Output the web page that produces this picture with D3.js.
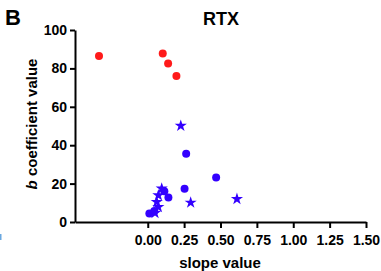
<!DOCTYPE html>
<html>
<head>
<meta charset="utf-8">
<script src="https://cdn.jsdelivr.net/npm/d3@7"></script>
<style>
  body { margin: 0; background: #fff; }
  svg { display: block; font-family: "Liberation Sans", Arial, sans-serif; }
  .axis path, .axis line { stroke: #000; stroke-width: 2; }
  .axis text { font-size: 14px; font-weight: bold; fill: #000; }
</style>
</head>
<body>
<script>
// values
var redSlope = [-0.335, 0.103, 0.14, 0.197];
var redB = [86.4, 87.8, 82.6, 76.0];

var blueDotSlope = [0.264, 0.47, 0.253, 0.011, 0.045, 0.114, 0.142];
var blueDotB = [35.5, 23.2, 17.3, 4.4, 5.7, 16.0, 12.7];

var blueStarSlope = [0.227, 0.295, 0.613, 0.096, 0.073, 0.062, 0.073, 0.05];
var blueStarB = [50.1, 10.1, 12.0, 17.4, 13.9, 10.4, 7.8, 4.7];

var xTicks = [0, 0.25, 0.5, 0.75, 1.0, 1.25, 1.5];
var yTicks = [0, 20, 40, 60, 80, 100];

var width = 381, height = 271;

var svg = d3.select("body")
    .append("svg")
    .attr("width", width)
    .attr("height", height);

var x = d3.scaleLinear()
    .domain([-0.5, 1.5])
    .range([75, 366]);

var y = d3.scaleLinear()
    .domain([0, 100])
    .range([222, 30]);

// X axis
svg.append("g")
    .attr("class", "axis")
    .attr("transform", "translate(0," + y(0) + ")")
    .call(d3.axisBottom(x)
        .tickValues(xTicks)
        .tickSize(6)
        .tickSizeOuter(0)
        .tickPadding(7)
        .tickFormat(d3.format(".2f")));

// Y axis
svg.append("g")
    .attr("class", "axis")
    .attr("transform", "translate(" + x(-0.5) + ",0)")
    .call(d3.axisLeft(y)
        .tickValues(yTicks)
        .tickSize(5)
        .tickSizeOuter(0)
        .tickPadding(3));

// points
var red = "#ff1a1a", blue = "#3300ff";

svg.append("g")
    .selectAll("circle")
    .data(redSlope)
    .enter()
    .append("circle")
    .attr("cx", function (d) { return x(d); })
    .attr("cy", function (d, i) { return y(redB[i]); })
    .attr("r", 4)
    .style("fill", red);

svg.append("g")
    .selectAll("circle")
    .data(blueDotSlope)
    .enter()
    .append("circle")
    .attr("cx", function (d) { return x(d); })
    .attr("cy", function (d, i) { return y(blueDotB[i]); })
    .attr("r", 4)
    .style("fill", blue);

var star = d3.symbol().type(d3.symbolStar).size(46);
svg.append("g")
    .selectAll("path")
    .data(blueStarSlope)
    .enter()
    .append("path")
    .attr("d", star)
    .attr("transform", function (d, i) {
        return "translate(" + x(d) + "," + y(blueStarB[i]) + ")";
    })
    .style("fill", blue);

// texts
svg.append("text")
    .attr("x", 5)
    .attr("y", 25)
    .style("font-size", "22px")
    .style("font-weight", "bold")
    .text("B");

svg.append("text")
    .attr("x", 221)
    .attr("y", 25)
    .attr("text-anchor", "middle")
    .style("font-size", "18px")
    .style("font-weight", "bold")
    .text("RTX");

svg.append("text")
    .attr("x", 220)
    .attr("y", 268)
    .attr("text-anchor", "middle")
    .style("font-size", "15px")
    .style("font-weight", "bold")
    .text("slope value");

var yLabel = svg.append("text")
    .attr("transform", "translate(37,124) rotate(-90)")
    .attr("text-anchor", "middle")
    .style("font-size", "15px")
    .style("font-weight", "bold");
yLabel.append("tspan").style("font-style", "italic").text("b");
yLabel.append("tspan").text(" coefficient value");

// sliver of the neighbouring panel at the left edge
svg.append("rect")
    .attr("x", 0)
    .attr("y", 234)
    .attr("width", 1.5)
    .attr("height", 6)
    .style("fill", "#6aa8e0");
</script>
</body>
</html>
